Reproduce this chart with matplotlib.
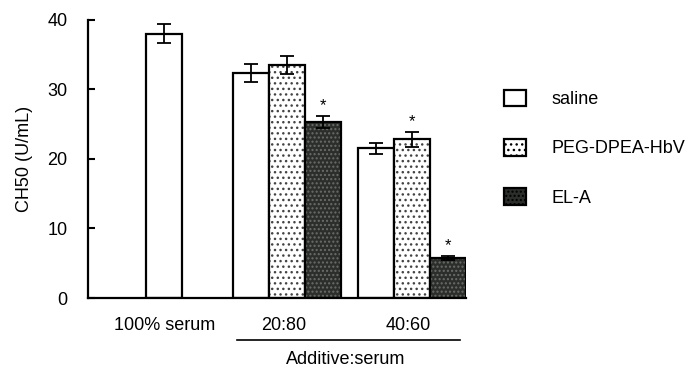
import numpy as np
import matplotlib.pyplot as plt
from matplotlib.patches import Patch

plt.rcParams['font.family'] = ['Liberation Sans', 'DejaVu Sans']

# datos
grupos = ['100% serum', '20:80', '40:60']
series = ['saline', 'PEG-DPEA-HbV', 'EL-A']
saline = [38.0, 32.4, 21.5]
saline_err = [1.4, 1.3, 0.8]
peg = [33.5, 22.8]
peg_err = [1.3, 1.1]
ela = [25.3, 5.8]
ela_err = [0.9, 0.3]

centros = [0.0, 3.4, 6.85]
w = 1.0

fig = plt.figure(figsize=(6.94, 3.67), dpi=100)
ax = fig.add_axes([0.127, 0.188, 0.545, 0.758])

ek = dict(ecolor='black', elinewidth=1.3, capsize=5, capthick=1.3)

# saline
xs = [centros[0]] + [c - w for c in centros[1:]]
ax.bar(xs, saline, w, color='white', edgecolor='black', linewidth=1.6)
ax.errorbar(xs, saline, yerr=saline_err, fmt='none', **ek)

# PEG-DPEA-HbV
xp = [c for c in centros[1:]]
ax.bar(xp, peg, w, color='white', edgecolor='#444444', hatch='...', linewidth=0)
ax.bar(xp, peg, w, color='none', edgecolor='black', linewidth=1.6)
ax.errorbar(xp, peg, yerr=peg_err, fmt='none', **ek)

# EL-A
xe = [c + w for c in centros[1:]]
ax.bar(xe, ela, w, color='#2b2e2b', edgecolor='#6a6d6a', hatch='....', linewidth=0)
ax.bar(xe, ela, w, color='none', edgecolor='black', linewidth=1.6)
ax.errorbar(xe, ela, yerr=ela_err, fmt='none', **ek)

# asteriscos
for x, y, e in [(xe[0], ela[0], ela_err[0]), (xp[1], peg[1], peg_err[1]), (xe[1], ela[1], ela_err[1])]:
    ax.text(x, y + e + 0.4, '*', ha='center', va='bottom', fontsize=12)

ax.set_xlim(-2.1, xe[1] + 0.5)
ax.set_ylim(0, 40)
ax.set_yticks([0, 10, 20, 30, 40])
ax.tick_params(axis='y', direction='in', length=5, width=1.5, pad=15, labelsize=13)
ax.set_xticks([])
for s in ['top', 'right']:
    ax.spines[s].set_visible(False)
for s in ['left', 'bottom']:
    ax.spines[s].set_linewidth(1.6)
ax.set_ylabel('CH50 (U/mL)', fontsize=13, labelpad=10)

# etiquetas de grupo
for c, g in zip([centros[0], centros[1] - 0.1, centros[2] - 0.1], grupos):
    ax.text(c, -4.0, g, ha='center', va='center', fontsize=13, clip_on=False)
fig.add_artist(plt.Line2D([237 / 694, 460 / 694], [1 - 340 / 367] * 2, color='black', lw=1.2))
fig.text(346 / 694, 1 - 360 / 367, 'Additive:serum', ha='center', va='center', fontsize=13)

# leyenda
handles = [Patch(facecolor='white', edgecolor='black', linewidth=1.6),
           Patch(facecolor='white', edgecolor='black', hatch='...', linewidth=1.6),
           Patch(facecolor='#2b2e2b', edgecolor='black', hatch='....', linewidth=1.6)]
fig.legend(handles, series, loc='upper left', bbox_to_anchor=(0.703, 0.80), frameon=False,
           fontsize=13, handlelength=1.2, handleheight=1.05, handletextpad=1.4, labelspacing=1.7)

fig.savefig('out.png', dpi=100)
